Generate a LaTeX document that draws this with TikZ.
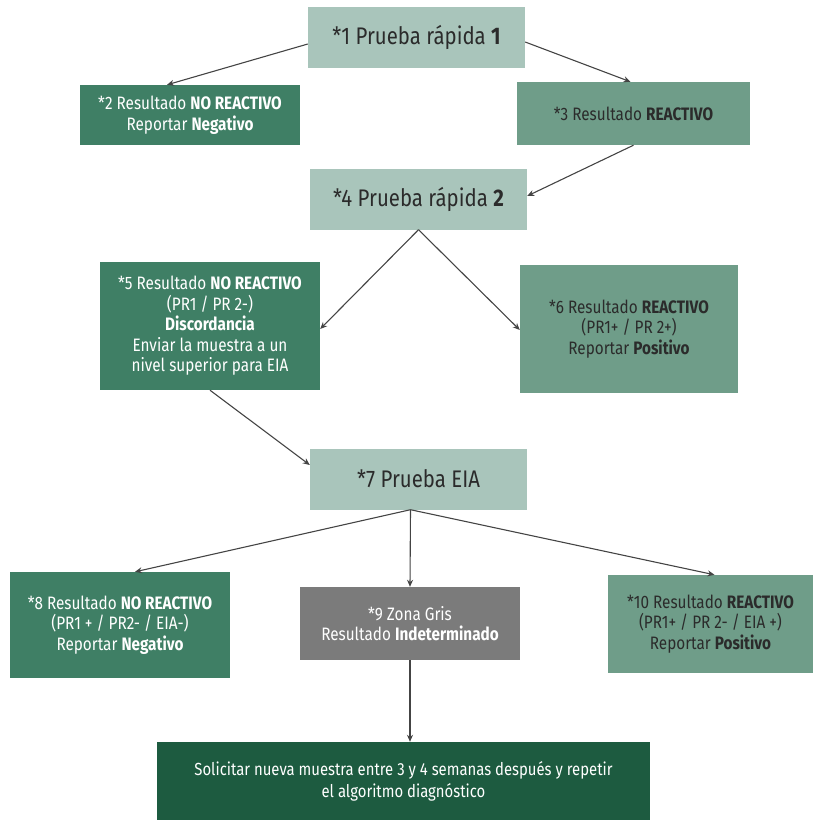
\documentclass[tikz,border=0pt]{standalone}
\usepackage{fontspec}
\setmainfont{Fira Sans}[FakeStretch=0.85]
\usetikzlibrary{arrows.meta}
\definecolor{lightbox}{HTML}{A9C5BB}
\definecolor{darkbox}{HTML}{3F7F65}
\definecolor{midbox}{HTML}{6F9D89}
\definecolor{graybox}{HTML}{7B7B7B}
\definecolor{deepbox}{HTML}{1D5B40}
\definecolor{arrowgray}{HTML}{444444}
\definecolor{darktext}{HTML}{2B2B2B}
\tikzset{
  box/.style={rectangle, inner sep=2pt, align=center, font=\fontsize{18}{20.5}\selectfont},
  titlebox/.style={box, fill=lightbox, text=darktext, minimum width=217pt, minimum height=61pt, font=\fontsize{24}{26}\selectfont},
  darkb/.style={box, fill=darkbox, text=white},
  midb/.style={box, fill=midbox, text=darktext},
  grayb/.style={box, fill=graybox, text=white},
  deepb/.style={box, fill=deepbox, text=white, font=\fontsize{17.5}{22}\selectfont},
  arr/.style={draw=arrowgray, line width=1.1pt, -{Stealth[length=7pt,width=6pt]}}
}
\begin{document}
\begin{tikzpicture}[x=1pt,y=1pt]
\useasboundingbox (0,0) rectangle (814,-820);
\node[titlebox] (b1) at (416.5,-37) {*1 Prueba rápida \textbf{1}};
\node[darkb, minimum width=220pt, minimum height=60pt] (b2) at (190,-115) {*2 Resultado \textbf{NO REACTIVO}\\Reportar \textbf{Negativo}};
\node[midb, minimum width=233pt, minimum height=63pt] (b3) at (633.5,-113.5) {*3 Resultado \textbf{REACTIVO}};
\node[titlebox] (b4) at (418.5,-199) {*4 Prueba rápida \textbf{2}};
\node[darkb, minimum width=220pt, minimum height=128pt] (b5) at (210,-326) {*5 Resultado \textbf{NO REACTIVO}\\(PR1 / PR 2-)\\\textbf{Discordancia}\\Enviar la muestra a un\\nivel superior para EIA};
\node[midb, minimum width=218pt, minimum height=128pt] (b6) at (629,-329) {*6 Resultado \textbf{REACTIVO}\\(PR1+ / PR 2+)\\Reportar \textbf{Positivo}};
\node[titlebox] (b7) at (418.5,-479) {*7 Prueba EIA};
\node[darkb, minimum width=220pt, minimum height=106pt] (b8) at (120,-625) {*8 Resultado \textbf{NO REACTIVO}\\(PR1 + / PR2- / EIA-)\\Reportar \textbf{Negativo}};
\node[grayb, minimum width=220pt, minimum height=73pt] (b9) at (410,-623.5) {*9 Zona Gris\\Resultado \textbf{Indeterminado}};
\node[midb, minimum width=205pt, minimum height=98pt] (b10) at (710.5,-624) {*10 Resultado \textbf{REACTIVO}\\(PR1+ / PR 2- / EIA +)\\Reportar \textbf{Positivo}};
\node[deepb, minimum width=493pt, minimum height=78pt] (b11) at (403.5,-781) {Solicitar nueva muestra entre 3 y 4 semanas después y repetir\\el algoritmo diagnóstico};
\coordinate (o7) at ([xshift=-8pt]b7.south);
\draw[arr] ([yshift=-7pt]b1.west) -- ([xshift=-23pt]b2.north);
\draw[arr] ([yshift=-5pt]b1.east) -- ([xshift=-3pt]b3.north);
\draw[arr] (b3.south) -- ([yshift=3pt]b4.east);
\draw[arr] (b4.south) -- ([yshift=-3pt]b5.east);
\draw[arr] (b4.south) -- ([yshift=-1pt]b6.west);
\draw[arr] (b5.south) -- ([yshift=14pt]b7.west);
\draw[arr] (o7) -- ([xshift=15pt]b8.north);
\draw[arr] (o7) -- (b9.north);
\draw[arr] (o7) -- ([xshift=4pt]b10.north);
\draw[arr] (b9.south) -- (b9.south |- b11.north);
\end{tikzpicture}
\end{document}
